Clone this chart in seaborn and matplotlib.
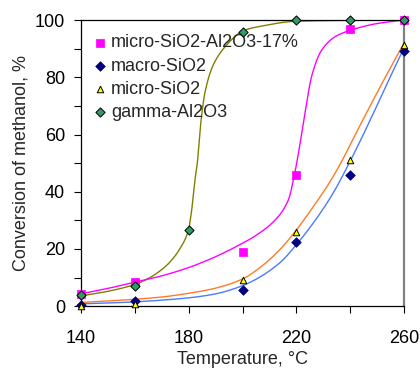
import numpy as np
import pandas as pd
import seaborn as sns
import matplotlib
matplotlib.use('Agg')
import matplotlib.pyplot as plt
from matplotlib.ticker import FixedLocator, MultipleLocator

# measured points
t_six = [140, 160, 200, 220, 240, 260]
t_all = [140, 160, 180, 200, 220, 240, 260]
conv_sial = [4.1, 8.6, 19.1, 45.7, 96.8, 100]
conv_macro = [0.3, 1.9, 5.7, 22.4, 45.7, 89.3]
conv_micro = [0.1, 0.6, 9.3, 25.9, 51.2, 91.3]
conv_gamma = [3.8, 7.2, 26.7, 96.0, 100, 100, 100]

# fitted curves
fit_gamma_t = [140, 150, 160, 165.6, 170, 173.1, 177, 179.9, 181.1, 182.3, 183.3, 183.9,
               184.8, 186.1, 189.1, 194.1, 200.3, 206.5, 220, 240, 260]
fit_gamma_c = [3.6, 5.2, 7.6, 10.0, 12.8, 15.5, 20.5, 26.6, 33.6, 44, 51, 58,
               66.8, 75, 84.3, 91.3, 96.3, 97.8, 99.6, 99.9, 100]
fit_sial_t = [140, 150, 160, 170, 180, 190, 199, 204.6, 212.1, 217, 219.5, 221.4,
              223.2, 225.7, 229.4, 234.4, 240.6, 250, 260]
fit_sial_c = [4.3, 6.2, 8.4, 10.6, 13.5, 17.3, 21.5, 24.5, 30.1, 37.1, 47.0, 57.0,
              67.5, 80.5, 89.5, 94.2, 96.6, 98.8, 100]
fit_micro_t = [140, 150, 160, 170, 180, 190, 200, 206.5, 213.9, 219.5, 226.3, 232.5,
               236.2, 241.8, 247.4, 253.6, 260]
fit_micro_c = [1.3, 1.8, 2.4, 3.2, 4.5, 6.3, 9.5, 13.5, 19.8, 26.0, 34.8, 43.5,
               49.5, 59.8, 70.0, 81.0, 92.0]
fit_macro_t = [140, 150, 160, 170, 180, 190, 199, 204.6, 213.9, 220, 227.6, 233.7,
               239.9, 247.4, 253.6, 260]
fit_macro_c = [0.8, 1.1, 1.5, 2.1, 2.9, 4.3, 6.8, 9.2, 15.2, 21.5, 30.8, 39.6,
               50.5, 65.0, 77.6, 90.3]


def smooth(tx, cy, n=400):
    # monotone cubic through the read-off curve points, only for drawing
    x = np.asarray(tx, float)
    y = np.asarray(cy, float)
    h = np.diff(x)
    d = np.diff(y) / h
    m = np.zeros_like(y)
    m[0], m[-1] = d[0], d[-1]
    for k in range(1, len(x) - 1):
        if d[k - 1] * d[k] > 0:
            w1 = 2 * h[k] + h[k - 1]
            w2 = h[k] + 2 * h[k - 1]
            m[k] = (w1 + w2) / (w1 / d[k - 1] + w2 / d[k])
    xs = np.linspace(x[0], x[-1], n)
    i = np.clip(np.searchsorted(x, xs) - 1, 0, len(x) - 2)
    s = (xs - x[i]) / h[i]
    h00 = 2 * s**3 - 3 * s**2 + 1
    h10 = s**3 - 2 * s**2 + s
    h01 = -2 * s**3 + 3 * s**2
    h11 = s**3 - s**2
    ys = h00 * y[i] + h10 * h[i] * m[i] + h01 * y[i + 1] + h11 * h[i] * m[i + 1]
    return xs, ys


sns.set_style('ticks')
plt.rcParams['font.family'] = ['Liberation Sans', 'DejaVu Sans']

fig = plt.figure(figsize=(4.2, 3.72), dpi=100)
ax = fig.add_axes([0.193, 0.177, 0.769, 0.769])

for tx, cy, col in [(fit_gamma_t, fit_gamma_c, '#808000'),
                    (fit_sial_t, fit_sial_c, '#FF00FF'),
                    (fit_micro_t, fit_micro_c, '#FF7A26'),
                    (fit_macro_t, fit_macro_c, '#4A7BFF')]:
    xs, ys = smooth(tx, cy)
    sns.lineplot(x=xs, y=ys, color=col, lw=1.0, sort=False, ax=ax)

sns.scatterplot(x=t_six, y=conv_sial, marker='s', s=34, color='#FF00FF', edgecolor='#FF00FF',
                linewidth=0.5, label='micro-SiO2-Al2O3-17%', ax=ax, zorder=5, clip_on=False)
sns.scatterplot(x=t_six, y=conv_macro, marker='D', s=24, color='#000080', edgecolor='#000080',
                linewidth=0.5, label='macro-SiO2', ax=ax, zorder=6, clip_on=False)
sns.scatterplot(x=t_six, y=conv_micro, marker='^', s=22, color='#FFFF00', edgecolor='black',
                linewidth=0.7, label='micro-SiO2', ax=ax, zorder=7, clip_on=False)
sns.scatterplot(x=t_all, y=conv_gamma, marker='D', s=22, color='#339966', edgecolor='black',
                linewidth=0.7, label='gamma-Al2O3', ax=ax, zorder=8, clip_on=False)

ax.set_xlim(140, 260)
ax.set_ylim(0, 100)
ax.xaxis.set_major_locator(FixedLocator([140, 180, 220, 260]))
ax.xaxis.set_minor_locator(FixedLocator([160, 200, 240]))
ax.yaxis.set_major_locator(MultipleLocator(20))
ax.yaxis.set_minor_locator(MultipleLocator(10))
ax.tick_params(which='both', direction='out', labelsize=13, colors='black', width=0.8, length=5)
ax.tick_params(axis='y', pad=6.5)
ax.tick_params(axis='x', pad=12)

for side in ['left', 'bottom', 'top']:
    ax.spines[side].set_color('black')
    ax.spines[side].set_linewidth(0.9)
ax.spines['right'].set_color('#808080')
ax.spines['right'].set_linewidth(1.6)

ax.set_xlabel('Temperature, °C', fontsize=13, labelpad=3)
ax.set_ylabel('Conversion of methanol, %', fontsize=13, labelpad=4)

ax.legend(loc='upper left', bbox_to_anchor=(0.043, 0.95), frameon=False, fontsize=13,
          handlelength=0.6, handletextpad=0.3, labelspacing=0.34, borderpad=0,
          borderaxespad=0)

fig.savefig('out.png', dpi=100)
